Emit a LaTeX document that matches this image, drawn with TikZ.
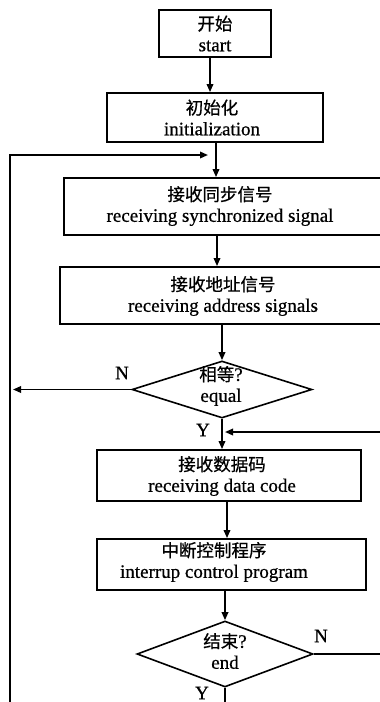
\documentclass[tikz,border=0pt]{standalone}
\usepackage{fontspec}
\setmainfont{Liberation Serif}[FakeBold=0.7]
\newfontfamily\cjk{Noto Sans CJK SC}[FakeBold=0.6]
\usetikzlibrary{shapes.geometric,arrows.meta}
\newcommand\cntext[1]{{\cjk\fontsize{17.5}{21}\selectfont #1}}

\begin{document}
\begin{tikzpicture}[x=1pt,y=-1pt,
  box/.style={draw, line width=1.8pt, rectangle, inner sep=0pt},
  dec/.style={draw, line width=1.6pt, diamond, inner sep=0pt},
  txt/.style={align=center, inner sep=0pt, font=\fontsize{19}{21}\selectfont},
  lbl/.style={inner sep=0pt, font=\fontsize{19}{21}\selectfont},
  link/.style={line width=1.7pt},
  arr/.style={link, -{Triangle[length=8pt,width=6.5pt]}}]
\useasboundingbox (0,0) rectangle (380,702);
\clip (0,0) rectangle (380,702);

% process boxes
\node[box, minimum width=112pt, minimum height=47pt] (start) at (215,33.5) {};
\node[txt] (start-t) at (215,33.5) {\cntext{开始}\\start};

\node[box, minimum width=216pt, minimum height=49pt] (init) at (215,117.5) {};
\node[txt] (init-t) at (212,117.5) {\cntext{初始化}\\initialization};

\node[box, minimum width=336pt, minimum height=57pt] (sync) at (232,206.5) {};
\node[txt] (sync-t) at (220,206) {\cntext{接收同步信号}\\receiving synchronized signal};

\node[box, minimum width=340pt, minimum height=57pt] (addr) at (230,295.5) {};
\node[txt] (addr-t) at (223,296) {\cntext{接收地址信号}\\receiving address signals};

\node[dec, minimum width=180pt, minimum height=57pt] (d1) at (222,389.5) {};
\node[txt] (d1-t) at (221,386) {\cntext{相等}?\\equal};

\node[box, minimum width=264pt, minimum height=51pt] (data) at (229,475.5) {};
\node[txt] (data-t) at (222,476) {\cntext{接收数据码}\\receiving data code};

\node[box, minimum width=269pt, minimum height=51pt] (int) at (231.5,564.5) {};
\node[txt] (int-t) at (214,562) {\cntext{中断控制程序}\\interrup control program};

\node[dec, minimum width=176pt, minimum height=66pt] (d2) at (225,654) {};
\node[txt] (d2-t) at (225,651) {\cntext{结束}?\\end};

% branch labels
\node[lbl] (n1) at (122,373) {N};
\node[lbl] (y1) at (203,430) {Y};
\node[lbl] (n2) at (321,636) {N};
\node[lbl] (y2) at (202,693) {Y};

% free ends of the loops
\coordinate (lb) at (10,702);
\coordinate (lt) at (10,155);
\coordinate (loopin) at (208,155);
\coordinate (rin) at (380,432);

% main flow
\draw[arr] (start.south -| 210,0) -- (init.north -| 210,0);
\draw[arr] (init.south -| 216,0) -- (sync.north -| 216,0);
\draw[arr] (sync.south -| 217,0) -- (addr.north -| 217,0);
\draw[arr] (addr.south -| d1.north) -- (d1.north);
\draw[arr] (d1.south) -- (d1.south |- data.north);
\draw[arr] (data.south -| 227,0) -- (int.north -| 227,0);
\draw[arr] (int.south -| d2.north) -- (d2.north);

% loops
\draw[arr] (lb) -- (lt) -- (loopin);
\draw[arr] (d1.west) -- ([xshift=3pt]lt |- d1.west);
\draw[arr] (rin) -- ([xshift=3pt]d1.south |- rin);
\draw[link] (d2.east) -- (d2.east -| rin);
\draw[link] (d2.south) -- (d2.south |- lb);
\end{tikzpicture}
\end{document}
